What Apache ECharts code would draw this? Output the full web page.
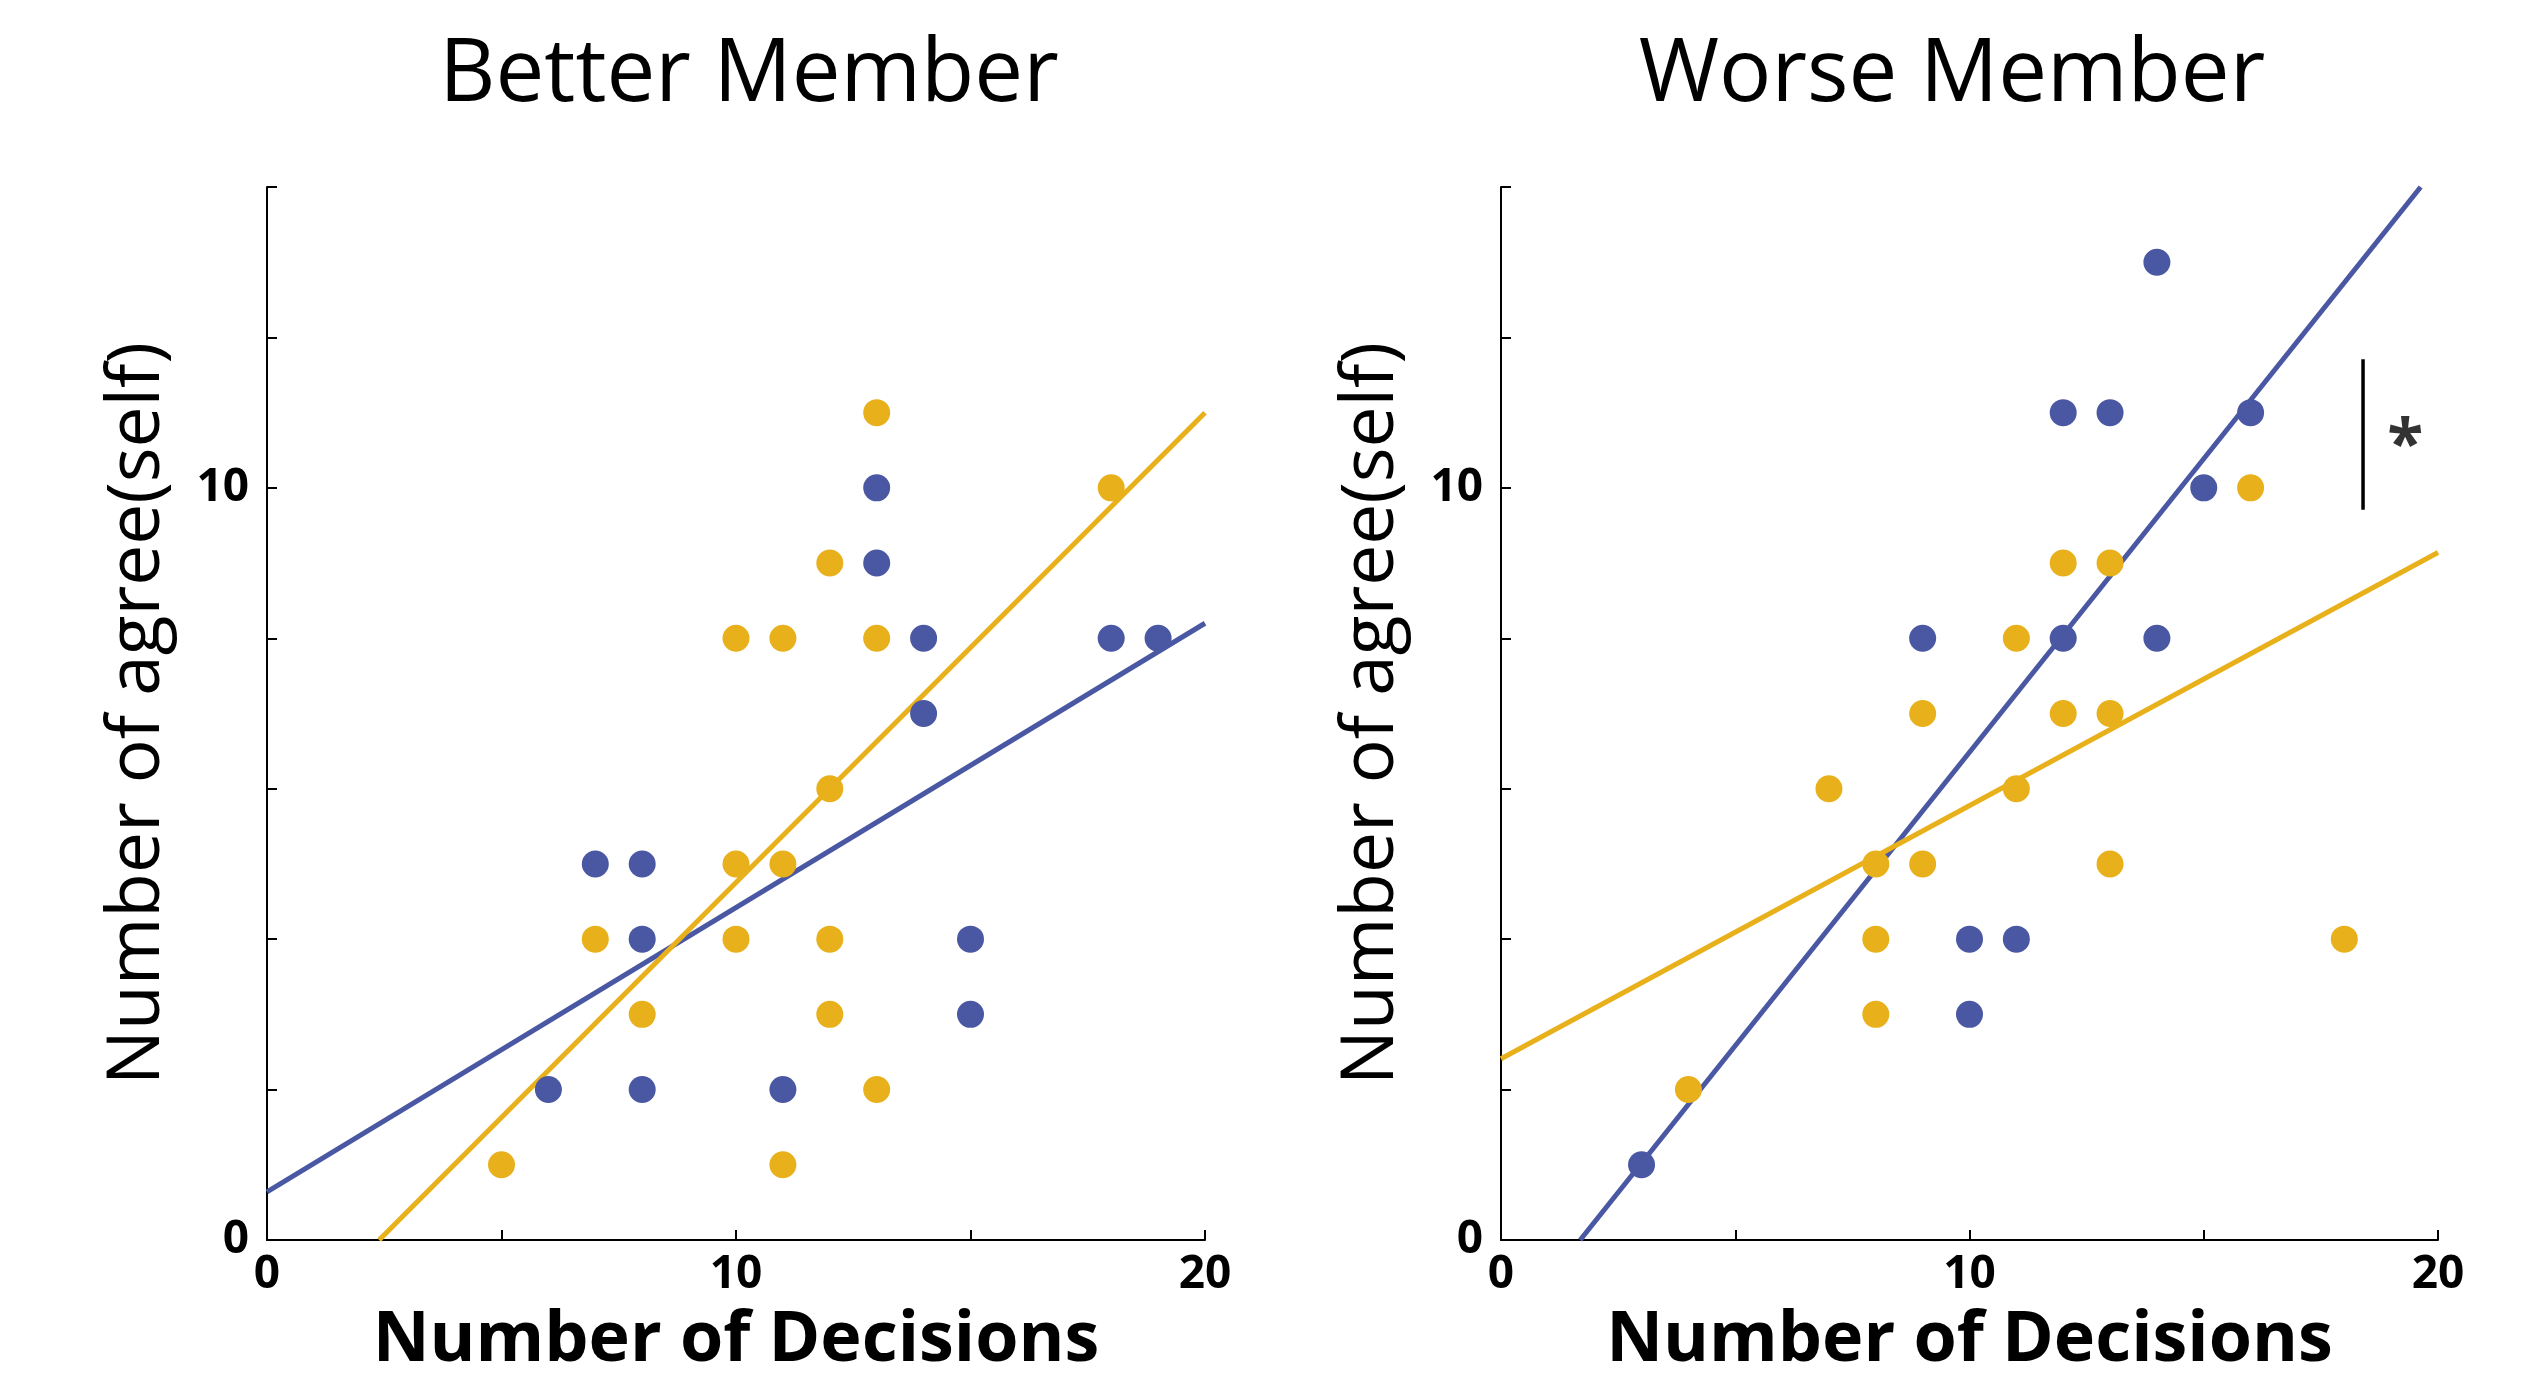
<!DOCTYPE html>
<html>
<head>
<meta charset="utf-8">
<script src="https://cdn.jsdelivr.net/npm/echarts@6/dist/echarts.min.js"></script>
<style>
  html, body { margin: 0; padding: 0; background: #ffffff; }
  #chart { width: 2527px; height: 1381px; }
</style>
</head>
<body>
<div id="chart"></div>
<script>
// Panel titles and axis texts
const panelTitles = ['Better Member', 'Worse Member'];
const xAxisTitle = 'Number of Decisions';
const yAxisTitle = 'Number of agree(self)';
const xTickLabels = [0, 10, 20];
const yTickLabels = [0, 10];

// Individual observations: [number of decisions, number of agree(self)]
const betterBlue = [[6,2],[7,5],[8,5],[8,4],[8,2],[11,2],[13,10],[13,9],[14,8],[14,7],[15,4],[15,3],[18,8],[19,8]];
const betterYellow = [[5,1],[7,4],[8,3],[10,8],[11,8],[10,5],[11,5],[10,4],[12,9],[12,6],[12,4],[12,3],[13,11],[13,8],[13,2],[11,1],[18,10]];
const worseBlue = [[3,1],[9,8],[10,4],[10,3],[11,4],[12,11],[12,8],[13,11],[14,13],[14,8],[15,10],[16,11]];
const worseYellow = [[4,2],[7,6],[8,5],[8,4],[8,3],[9,7],[9,5],[11,8],[11,6],[12,9],[12,7],[13,9],[13,7],[13,5],[16,10],[18,4]];

// Regression fit lines, endpoints at the edges of the plot box
const betterBlueFit = [[0,0.64],[20,8.2]];
const betterYellowFit = [[2.39,0],[20,11.0]];
const worseBlueFit = [[1.69,0],[19.63,14]];
const worseYellowFit = [[0,2.41],[20,9.14]];

// Significance bracket and marker in the right panel
const sigBracket = [[18.4,9.71],[18.4,11.71]];
const sigMark = [[19.3,10.69]];

const BLUE = '#4a58a3';
const YELLOW = '#e8b11c';
const FONT = "'Open Sans', 'Noto Sans', sans-serif";

const grids = [
  { left: 267, top: 187, width: 938, height: 1053 },
  { left: 1501, top: 187, width: 937, height: 1053 }
];

function xAxisFor(i) {
  return {
    type: 'value', gridIndex: i, min: 0, max: 20, interval: 5,
    name: xAxisTitle, nameLocation: 'middle', nameGap: 66,
    nameTextStyle: { fontFamily: FONT, fontWeight: 'bold', fontSize: 70, color: '#000' },
    axisLine: { show: true, onZero: false, lineStyle: { color: '#000', width: 2 } },
    axisTick: { show: true, inside: true, length: 10, lineStyle: { color: '#000', width: 2 } },
    axisLabel: {
      margin: 12, fontFamily: FONT, fontWeight: 'bold', fontSize: 46, color: '#000',
      formatter: v => (xTickLabels.includes(v) ? String(v) : '')
    },
    splitLine: { show: false }
  };
}

function yAxisFor(i) {
  return {
    type: 'value', gridIndex: i, min: 0, max: 14, interval: 2,
    name: yAxisTitle, nameLocation: 'middle', nameGap: 92, nameRotate: 90,
    nameTextStyle: { fontFamily: FONT, fontSize: 73, color: '#000' },
    axisLine: { show: true, onZero: false, lineStyle: { color: '#000', width: 2 } },
    axisTick: { show: true, inside: true, length: 10, lineStyle: { color: '#000', width: 2 } },
    axisLabel: {
      margin: 18, fontFamily: FONT, fontWeight: 'bold', fontSize: 46, color: '#000',
      formatter: v => (yTickLabels.includes(v) ? String(v) : '')
    },
    splitLine: { show: false }
  };
}

function fitLine(data, color, idx, z) {
  return {
    type: 'line', xAxisIndex: idx, yAxisIndex: idx, data: data,
    symbol: 'none', silent: true, z: z, clip: true,
    lineStyle: { color: color, width: 5 }
  };
}

function dots(data, color, idx, z) {
  return {
    type: 'scatter', xAxisIndex: idx, yAxisIndex: idx, data: data,
    symbol: 'circle', symbolSize: 27, z: z,
    itemStyle: { color: color, opacity: 1 }
  };
}

const option = {
  backgroundColor: '#ffffff',
  animation: false,
  title: [
    { text: panelTitles[0], left: 744, top: 28, textAlign: 'center',
      textStyle: { fontFamily: FONT, fontWeight: 'normal', fontSize: 87, color: '#000' } },
    { text: panelTitles[1], left: 1947, top: 28, textAlign: 'center',
      textStyle: { fontFamily: FONT, fontWeight: 'normal', fontSize: 87, color: '#000' } }
  ],
  grid: grids,
  xAxis: [xAxisFor(0), xAxisFor(1)],
  yAxis: [yAxisFor(0), yAxisFor(1)],
  series: [
    fitLine(betterBlueFit, BLUE, 0, 2),
    fitLine(betterYellowFit, YELLOW, 0, 3),
    dots(betterBlue, BLUE, 0, 4),
    dots(betterYellow, YELLOW, 0, 5),
    fitLine(worseBlueFit, BLUE, 1, 2),
    fitLine(worseYellowFit, YELLOW, 1, 3),
    dots(worseBlue, BLUE, 1, 4),
    dots(worseYellow, YELLOW, 1, 5),
    {
      type: 'line', xAxisIndex: 1, yAxisIndex: 1, data: sigBracket,
      symbol: 'none', silent: true, z: 6,
      lineStyle: { color: '#000', width: 3.5 }
    },
    {
      type: 'scatter', xAxisIndex: 1, yAxisIndex: 1, data: sigMark,
      symbolSize: 1, silent: true, z: 6,
      itemStyle: { color: 'rgba(0,0,0,0)' },
      label: {
        show: true, position: 'inside', formatter: '*', offset: [0, 12],
        fontFamily: FONT, fontWeight: 'bold', fontSize: 66, color: '#000'
      }
    }
  ]
};

const chart = echarts.init(document.getElementById('chart'), null, { renderer: 'canvas' });
chart.setOption(option);
</script>
</body>
</html>
